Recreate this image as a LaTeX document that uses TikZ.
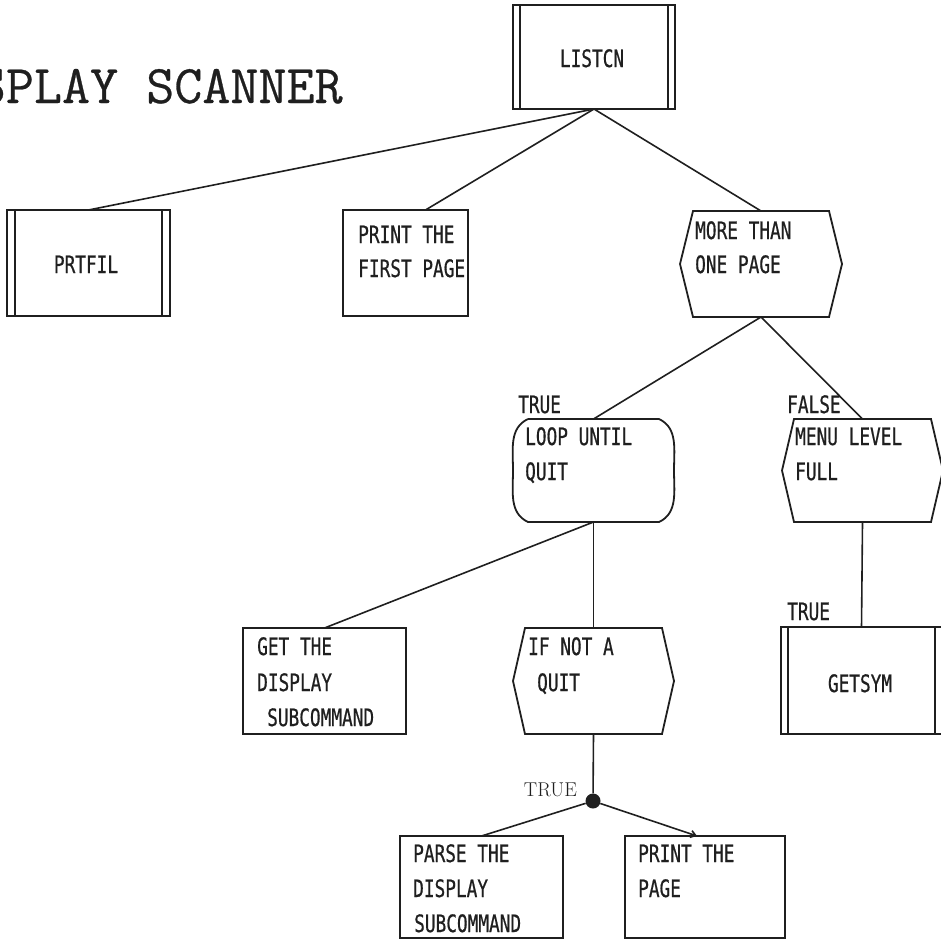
\documentclass[tikz,border=0pt]{standalone}
\usepackage{fontspec}
\newfontfamily\plotfont[FakeStretch=0.74,FakeBold=0.6]{DejaVu Sans Mono}
\newfontfamily\headfont[FakeBold=0.5]{Latin Modern Mono}
\usetikzlibrary{arrows.meta,calc}

\definecolor{ink}{gray}{0.12}

\tikzset{
  inkline/.style={draw=ink, line width=1.8pt},
  holder/.style={inner sep=0pt, outer sep=0pt, rectangle},
  plotbox/.style={holder, inkline},
  plottext/.style={font=\plotfont\fontsize{24}{28}\selectfont, text=ink,
                   inner sep=0pt, anchor=base west},
  wire/.style={draw=ink, line width=1.6pt},
  junction/.style={circle, fill=ink, inner sep=0pt, minimum size=15pt},
  titletext/.style={font=\headfont\fontsize{54.5}{60}\selectfont, text=ink,
                    inner sep=0pt, anchor=base west},
  serifnote/.style={font=\rmfamily\fontsize{20}{24}\selectfont, text=ink,
                    inner sep=0pt, anchor=base east},
}

% vertical bars just inside the left and right sides of a module box
\newcommand\sidebars[2]{%
  \draw[inkline] ([xshift=#2]#1.north west) -- ([xshift=#2]#1.south west)
                 ([xshift=-#2]#1.north east) -- ([xshift=-#2]#1.south east);}
% decision hexagon drawn over a holder node
\newcommand\hexoutline[2]{%
  \draw[inkline] ([xshift=#2]#1.north west) -- ([xshift=-#2]#1.north east)
    -- (#1.east) -- ([xshift=-#2]#1.south east) -- ([xshift=#2]#1.south west)
    -- (#1.west) -- cycle;}
% loop symbol: flat top and bottom, bowed sides
\newcommand\loopoutline[2]{%
  \draw[inkline, line join=round] ([xshift=#2]#1.north west) -- ([xshift=-#2]#1.north east)
    to[out=-25,in=90] (#1.east) to[out=-90,in=25] ([xshift=-#2]#1.south east)
    -- ([xshift=#2]#1.south west) to[out=155,in=-90] (#1.west)
    to[out=90,in=205] ([xshift=#2]#1.north west);}

\begin{document}
\begin{tikzpicture}[x=1pt,y=1pt]
  \useasboundingbox (0,0) rectangle (941,-940);
  \clip (0,0) rectangle (941,-940);

  % heading
  \node[titletext] (heading) at (-78.5,-103) {DISPLAY SCANNER};

  % ---- modules and decisions ----
  \node[plotbox, minimum width=162pt, minimum height=104pt] (listcn) at (594,-57) {};
  \sidebars{listcn}{7pt}
  \node[plottext, anchor=base] (listcn-t) at (592,-67) {LISTCN};

  \node[plotbox, minimum width=163pt, minimum height=106pt] (prtfil) at (88.5,-263) {};
  \sidebars{prtfil}{8pt}
  \node[plottext, anchor=base] (prtfil-t) at (86,-273) {PRTFIL};

  \node[plotbox, minimum width=125pt, minimum height=106pt] (first) at (405.5,-263) {};
  \node[plottext] (first-1) at (358,-243) {PRINT THE};
  \node[plottext] (first-2) at (358,-277) {FIRST PAGE};

  \node[holder, minimum width=162pt, minimum height=106pt] (more) at (761,-264) {};
  \hexoutline{more}{13pt}
  \node[plottext] (more-1) at (695,-239) {MORE THAN};
  \node[plottext] (more-2) at (695,-273) {ONE PAGE};

  \node[holder, minimum width=161pt, minimum height=103pt] (loop) at (593.5,-470.5) {};
  \loopoutline{loop}{15pt}
  \node[plottext] (loop-1) at (525,-445) {LOOP UNTIL};
  \node[plottext] (loop-2) at (525,-480) {QUIT};

  \node[holder, minimum width=161pt, minimum height=103pt] (menu) at (862.5,-470.5) {};
  \hexoutline{menu}{12pt}
  \node[plottext] (menu-1) at (795,-445) {MENU LEVEL};
  \node[plottext] (menu-2) at (795,-480) {FULL};

  \node[plotbox, minimum width=163pt, minimum height=106pt] (get) at (324.5,-681) {};
  \node[plottext] (get-1) at (257,-655) {GET THE};
  \node[plottext] (get-2) at (257,-691) {DISPLAY};
  \node[plottext] (get-3) at (267,-726) {SUBCOMMAND};

  \node[holder, minimum width=161pt, minimum height=106pt] (ifnot) at (593.5,-681) {};
  \hexoutline{ifnot}{12pt}
  \node[plottext] (ifnot-1) at (528,-655) {IF NOT A};
  \node[plottext] (ifnot-2) at (537,-691) {QUIT};

  \node[plotbox, minimum width=161pt, minimum height=107pt] (getsym) at (861.5,-680.5) {};
  \sidebars{getsym}{7pt}
  \node[plottext, anchor=base] (getsym-t) at (860,-692) {GETSYM};

  \node[plotbox, minimum width=163pt, minimum height=102pt] (parse) at (481.5,-887) {};
  \node[plottext] (parse-1) at (413,-862) {PARSE THE};
  \node[plottext] (parse-2) at (413,-897) {DISPLAY};
  \node[plottext] (parse-3) at (414,-932) {SUBCOMMAND};

  \node[plotbox, minimum width=160pt, minimum height=102pt] (ppage) at (705,-887) {};
  \node[plottext] (ppage-1) at (638,-862) {PRINT THE};
  \node[plottext] (ppage-2) at (638,-897) {PAGE};

  \node[junction] (dot) at (593,-801) {};

  % ---- branch labels ----
  \node[plottext] (lbl-true1) at (518,-413) {TRUE};
  \node[plottext] (lbl-false) at (787,-413) {FALSE};
  \node[plottext] (lbl-true2) at (787,-620) {TRUE};
  \node[serifnote] (lbl-true3) at (577,-796) {TRUE};

  % ---- connectors ----
  \draw[wire] (listcn.south) -- (prtfil.north);
  \draw[wire] (listcn.south) -- ([xshift=20pt]first.north);
  \draw[wire] (listcn.south) -- (more.north);
  \draw[wire] (more.south) -- (loop.north);
  \draw[wire] (more.south) -- (menu.north);
  \draw[wire] (loop.south) -- (get.north);
  \draw[wire] (loop.south) -- (ifnot.north);
  \draw[wire] (menu.south) -- (getsym.north);
  \draw[wire] (ifnot.south) -- (dot);
  \draw[wire] (dot) -- (parse.north);
  \draw[wire, -{Straight Barb[length=5pt,width=7pt]}] (dot) -- ([xshift=-8pt]ppage.north);
\end{tikzpicture}
\end{document}
